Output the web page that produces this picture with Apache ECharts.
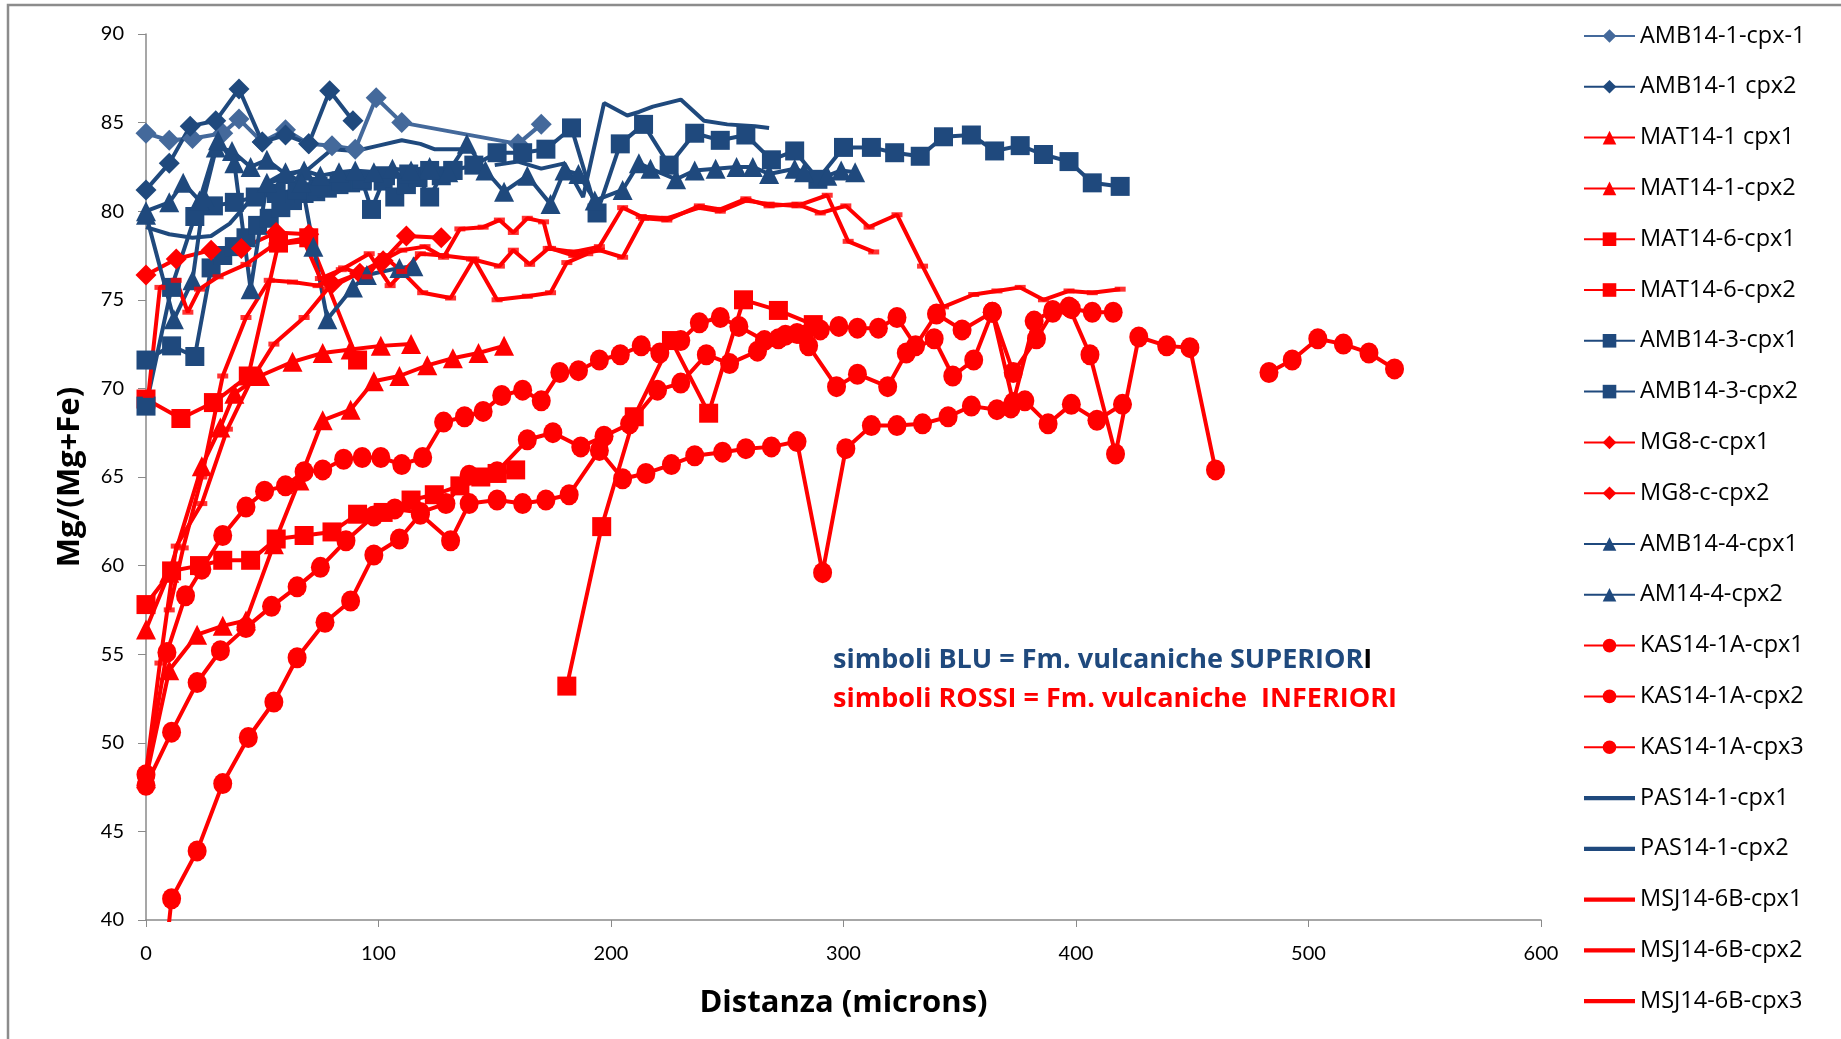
<!DOCTYPE html>
<html><head><meta charset="utf-8">
<script src="https://cdn.jsdelivr.net/npm/echarts/dist/echarts.min.js"></script>
<style>html,body{margin:0;padding:0;background:#fff}#c{width:1841px;height:1039px}</style>
</head><body><div id="c"></div>
<script>
// ---------- data (micron, Mg/(Mg+Fe)) ----------
const xTicks = [0,100,200,300,400,500,600];
const yTicks = [40,45,50,55,60,65,70,75,80,85,90];

const AMB14_1_cpx_1 = [[0,84.4],[10,84.0],[20,84.1],[33,84.4],[40,85.2],[50,83.9],[60,84.6],[70,83.8],[80,83.7],[90,83.5],[99,86.4],[110,85.0],[160,83.8],[170,84.9]];
const AMB14_1_cpx2 = [[0,81.2],[10,82.7],[19,84.8],[30,85.1],[40,86.9],[50,83.9],[60,84.3],[70,83.8],[79,86.8],[89,85.1]];
const MAT14_1_cpx1 = [[0,56.4],[10,59.6],[24,65.6],[32,67.8],[38,69.7],[49,70.7],[63,71.5],[76,72.0],[88,72.2],[101,72.4],[114,72.5]];
const MAT14_1_cpx2 = [[0,48.0],[10,54.1],[22,56.1],[33,56.6],[43,56.9],[55,61.2],[66,64.8],[76,68.2],[88,68.8],[98,70.4],[109,70.7],[121,71.3],[132,71.7],[143,72.0],[154,72.4]];
const MAT14_6_cpx1 = [[0,57.8],[11,59.7],[23,60.0],[33,60.3],[45,60.3],[56,61.5],[68,61.7],[80,61.9],[91,62.9],[102,63.0],[114,63.7],[124,64.0],[135,64.5],[144,65.0],[151,65.2],[159,65.4]];
const MAT14_6_cpx2 = [[0,69.4],[15,68.3],[29,69.2],[44,70.7],[57,78.2],[70,78.5],[91,71.6],['-','-'],[181,53.2],[196,62.2],[210,68.4],[226,72.7],[242,68.6],[257,75.0],[272,74.4],[287,73.6]];
const AMB14_3_cpx1 = [[0,71.6],[11,72.4],[21,71.8],[28,76.8],[33,77.5],[38,78.0],[43,78.5],[48,79.2],[53,79.6],[58,80.2],[63,80.6],[68,81.0],[73,81.1],[78,81.3],[83,81.5],[88,81.6],[93,81.7],[97,80.1],[102,81.7],[107,80.8],[112,81.5],[117,81.9],[122,80.8],[127,82.0],[132,82.3]];
const AMB14_3_cpx2 = [[0,69.0],[11,75.7],[21,79.7],[29,80.3],[38,80.5],[47,80.8],[56,81.0],[65,81.2],[74,81.4],[84,81.7],[93,81.8],[103,82.0],[113,82.1],[122,82.3],[132,82.3],[141,82.6],[151,83.3],[162,83.3],[172,83.5],[183,84.7],[194,79.9],[204,83.8],[214,84.9],[225,82.6],[236,84.4],[247,84.0],[258,84.3],[269,82.9],[279,83.4],[289,81.8],[300,83.6],[312,83.6],[322,83.3],[333,83.1],[343,84.2],[355,84.3],[365,83.4],[376,83.7],[386,83.2],[397,82.8],[407,81.6],[419,81.4]];
const MG8_c_cpx1 = [[0,76.4],[13,77.3],[28,77.8],[41,77.9],[56,78.8],[70,78.7]];
const MG8_c_cpx2 = [[80,75.9],[92,76.5],[102,77.2],[112,78.6],[127,78.5]];
const AMB14_4_cpx1 = [[0,80.0],[10,80.5],[16,81.6],[23,80.6],[30,83.6],[37,83.4],[45,82.5],[52,82.9],[60,82.1],[68,82.3],[75,82.0],[83,82.2],[90,82.3],[98,82.2],[106,82.4],[114,82.3],[122,82.5],[130,82.2],[138,83.8],[146,82.3],[154,81.1],[164,82.0],[174,80.4],[180,82.3],[186,82.1],[193,80.6],[205,81.2],[212,82.7],[217,82.4],[228,81.8],[236,82.3],[245,82.4],[254,82.5],[261,82.5],[268,82.1],[279,82.4],[283,82.2],[293,82.0],[299,82.3],[305,82.2]];
const AM14_4_cpx2 = [[0,79.8],[12,73.9],[20,76.1],[25,80.8],[31,84.0],[38,82.7],[45,75.6],[52,81.6],[60,82.2],[67,81.6],[72,78.0],[78,73.9],[89,75.7],[95,76.4],[109,76.8],[115,76.9]];
const KAS14_1A_cpx1 = [[0,48.2],[9,55.1],[17,58.3],[24,59.8],[33,61.7],[43,63.3],[51,64.2],[60,64.5],[68,65.3],[76,65.4],[85,66.0],[93,66.1],[101,66.1],[110,65.7],[119,66.1],[128,68.1],[137,68.4],[145,68.7],[153,69.6],[162,69.9],[170,69.3],[178,70.9],[186,71.0],[195,71.6],[204,71.9],[213,72.4],[221,72.0],[230,72.7],[238,73.7],[247,74.0],[255,73.5],[266,72.7],[275,73.0],[283,73.0],[290,73.3],[298,73.5],[306,73.4],[315,73.4],[323,74.0],[331,72.4],[340,74.2],[351,73.3],[364,74.3],[373,70.9],[383,72.8],[390,74.3],[397,74.6],[406,71.9],[417,66.3],[427,72.9],[439,72.4],[449,72.3],[460,65.4],['-','-'],[483,70.9],[493,71.6],[504,72.8],[515,72.5],[526,72.0],[537,71.1]];
const KAS14_1A_cpx2 = [[0,47.6],[11,50.6],[22,53.4],[32,55.2],[43,56.5],[54,57.7],[65,58.8],[75,59.9],[86,61.4],[98,62.8],[107,63.2],[118,63.0],[129,63.5],[139,65.1],[151,65.3],[164,67.1],[175,67.5],[187,66.7],[197,67.3],[208,68.0],[220,69.9],[230,70.3],[241,71.9],[251,71.4],[263,72.1],[272,72.8],[280,73.1],[285,72.4],[297,70.1],[306,70.8],[319,70.1],[327,72.0],[339,72.8],[347,70.7],[356,71.6],[364,74.3],[373,69.2],[382,73.8],[390,74.4],[398,74.5],[407,74.3],[416,74.3]];
const KAS14_1A_cpx3 = [[8,37.5],[11,41.2],[22,43.9],[33,47.7],[44,50.3],[55,52.3],[65,54.8],[77,56.8],[88,58.0],[98,60.6],[109,61.5],[118,62.9],[131,61.4],[139,63.5],[151,63.7],[162,63.5],[172,63.7],[182,64.0],[195,66.5],[205,64.9],[215,65.2],[226,65.7],[236,66.2],[248,66.4],[258,66.6],[269,66.7],[280,67.0],[291,59.6],[301,66.6],[312,67.9],[323,67.9],[334,68.0],[345,68.4],[355,69.0],[366,68.8],[372,68.9],[378,69.3],[388,68.0],[398,69.1],[409,68.2],[420,69.1]];
const PAS14_1_cpx1 = [[0,79.1],[10,78.7],[20,78.5],[28,78.6],[36,79.3],[44,80.5],[52,81.5],[60,82.0],[70,82.4],[80,83.5],[90,83.4],[100,83.7],[110,84.0],[118,83.8],[124,83.5],[131,83.5],[138,83.5]];
const PAS14_1_cpx2 = [[150,82.6],[160,82.8],[170,82.4],[180,82.7],[188,80.8],[197,86.1],[207,85.4],[212,85.6],[218,85.9],[224,86.1],[230,86.3],[240,85.1],[250,84.9],[262,84.8],[268,84.7]];
const MSJ14_6B_cpx1 = [[0,48.3],[6,54.5],[13,61.1],[24,63.5],[35,67.7],[45,70.4],[55,72.5],[68,74.0],[78,75.6],[90,76.4],[100,77.1],[110,77.8],[120,78.0],[128,77.4],[135,79.0],[145,79.1],[152,79.5],[158,78.8],[164,79.6],[171,79.4],[174,77.9],[184,77.5],[195,77.8],[205,77.4],[214,79.6],[224,79.5],[238,80.3],[247,80.1],[258,80.7],[268,80.3],[280,80.4],[290,79.9],[301,80.3],[311,79.1],[323,79.8],[334,76.9],[343,74.6],[356,75.3],[366,75.5],[376,75.7],[386,75.0],[397,75.5],[407,75.4],[419,75.6]];
const MSJ14_6B_cpx2 = [[1,69.6],[6,75.7],[13,76.1],[18,74.3],[23,75.6],[31,76.3],[43,77.0],[55,78.1],[68,78.3],[75,76.2],[84,76.7],[96,77.6],[105,75.8],[118,77.6],[128,77.5],[140,77.3],[152,76.9],[158,77.8],[165,77.0],[173,77.9],[184,77.7],[195,78.0],[205,80.2],[213,79.7],[224,79.6],[238,80.2],[247,80.0],[258,80.6],[268,80.4],[280,80.3],[293,80.9],[302,78.3],[313,77.7]];
const MSJ14_6B_cpx3 = [[10,57.5],[16,61.0],[24,65.0],[33,70.7],[43,74.0],[53,76.1],[63,76.0],[74,75.8],[85,76.8],[95,76.3],[102,77.5],[110,76.6],[119,75.4],[131,75.1],[141,77.3],[151,75.0],[164,75.2],[174,75.4],[181,77.1],[190,77.6]];

const seriesNames = ['AMB14-1-cpx-1','AMB14-1 cpx2','MAT14-1 cpx1','MAT14-1-cpx2','MAT14-6-cpx1','MAT14-6-cpx2','AMB14-3-cpx1','AMB14-3-cpx2','MG8-c-cpx1','MG8-c-cpx2','AMB14-4-cpx1','AM14-4-cpx2','KAS14-1A-cpx1','KAS14-1A-cpx2','KAS14-1A-cpx3','PAS14-1-cpx1','PAS14-1-cpx2','MSJ14-6B-cpx1','MSJ14-6B-cpx2','MSJ14-6B-cpx3'];
const seriesData = [AMB14_1_cpx_1,AMB14_1_cpx2,MAT14_1_cpx1,MAT14_1_cpx2,MAT14_6_cpx1,MAT14_6_cpx2,AMB14_3_cpx1,AMB14_3_cpx2,MG8_c_cpx1,MG8_c_cpx2,AMB14_4_cpx1,AM14_4_cpx2,KAS14_1A_cpx1,KAS14_1A_cpx2,KAS14_1A_cpx3,PAS14_1_cpx1,PAS14_1_cpx2,MSJ14_6B_cpx1,MSJ14_6B_cpx2,MSJ14_6B_cpx3];

// ---------- styles ----------
const BLUE = '#1F497D', LBLUE = '#44699B', RED = '#FF0000';
const styleOf = [
  [LBLUE,'diamond',21],[BLUE,'diamond',21],
  [RED,'triangle',20],[RED,'triangle',20],
  [RED,'rect',19],[RED,'rect',19],
  [BLUE,'rect',19],[BLUE,'rect',19],
  [RED,'diamond',21],[RED,'diamond',21],
  [BLUE,'triangle',20],[BLUE,'triangle',20],
  [RED,'circle',[19,21]],[RED,'circle',[19,21]],[RED,'circle',[19,21]],
  [BLUE,'none',0],[BLUE,'none',0],
  [RED,'dash',0],[RED,'dash',0],[RED,'dash',0]
];
const FONT = 'Lato, "Liberation Sans", sans-serif';
const TFONT = '"Open Sans", "Liberation Sans", sans-serif';
const LINEICON = 'path://M0,0H60V5H0Z';

const series = [];
const legendData = [];
seriesNames.forEach((name, i) => {
  const [color, sym, size] = styleOf[i];
  const plain = (sym === 'none' || sym === 'dash');
  series.push({
    type: 'line', name, data: seriesData[i],
    symbol: plain ? 'none' : sym, symbolSize: size, showSymbol: !plain,
    itemStyle: {color}, lineStyle: {color, width: 4},
    connectNulls: false, clip: true, animation: false, z: 2
  });
  if (sym === 'dash') {
    series.push({
      type: 'scatter', name: name + ' ', data: seriesData[i].filter(p => p[0] !== '-'),
      symbol: 'rect', symbolSize: [11, 5], itemStyle: {color},
      clip: true, animation: false, z: 2, silent: true
    });
  }
  legendData.push(plain ? {name, icon: LINEICON} : {name});
});

const chart = echarts.init(document.getElementById('c'), null, {renderer: 'canvas'});
chart.setOption({
  backgroundColor: '#fff',
  animation: false,
  grid: {left: 146, right: 300, top: 34, bottom: 119, containLabel: false},
  xAxis: {
    type: 'value', min: 0, max: 600, interval: 100,
    name: 'Distanza (microns)', nameLocation: 'middle', nameGap: 68,
    nameTextStyle: {fontFamily: TFONT, fontWeight: 'bold', fontSize: 31, color: '#000'},
    axisLine: {show: true, lineStyle: {color: '#8a8a8a', width: 1.5}},
    axisTick: {show: true, inside: false, length: 7, lineStyle: {color: '#8a8a8a'}},
    axisLabel: {margin: 24, fontFamily: FONT, fontSize: 20, color: '#000',
      formatter: v => xTicks.includes(v) ? String(v) : ''},
    splitLine: {show: false}
  },
  yAxis: {
    type: 'value', min: 40, max: 90, interval: 5,
    name: 'Mg/(Mg+Fe)', nameLocation: 'middle', nameGap: 60,
    nameTextStyle: {fontFamily: TFONT, fontWeight: 'bold', fontSize: 31, color: '#000'},
    axisLine: {show: true, lineStyle: {color: '#8a8a8a', width: 1.5}},
    axisTick: {show: true, inside: false, length: 8, lineStyle: {color: '#8a8a8a'}},
    axisLabel: {margin: 22, fontFamily: FONT, fontSize: 20, color: '#000',
      formatter: v => yTicks.includes(v) ? String(v) : ''},
    splitLine: {show: false}
  },
  legend: {
    type: 'plain', orient: 'vertical', left: 1578, top: 19, height: 1030,
    itemWidth: 51, itemHeight: 17, itemGap: 26.8,
    textStyle: {fontFamily: TFONT, fontSize: 23.5, color: '#000'},
    data: legendData, selectedMode: false
  },
  graphic: [
    {type: 'rect', z: -1, silent: true,
     shape: {x: 8, y: 5, width: 1860, height: 1060},
     style: {fill: 'none', stroke: '#8c8c8c', lineWidth: 2.5}},
    {type: 'text', x: 833, y: 660, z: 10,
     style: {text: '{b|simboli BLU = Fm. vulcaniche SUPERIOR}{k|I}', verticalAlign: 'middle',
       rich: {b: {fill: BLUE, font: 'bold 27px ' + TFONT}, k: {fill: '#000', font: 'bold 27px ' + TFONT}}}},
    {type: 'text', x: 833, y: 699, z: 10,
     style: {text: 'simboli ROSSI = Fm. vulcaniche  INFERIORI', verticalAlign: 'middle', fill: RED, font: 'bold 27px ' + TFONT}}
  ],
  series
});
</script></body></html>
